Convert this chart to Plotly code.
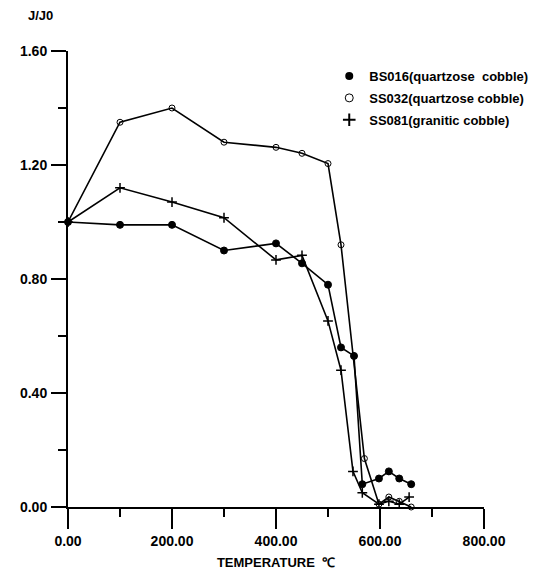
import plotly.graph_objects as go

# Data
bs016_x = [0, 100, 200, 300, 400, 450, 500, 525, 550, 566, 598, 617, 637, 660]
bs016_y = [1.00, 0.99, 0.99, 0.90, 0.925, 0.855, 0.78, 0.56, 0.53, 0.08, 0.10, 0.125, 0.10, 0.08]

ss032_x = [0, 100, 200, 300, 400, 450, 500, 525, 570, 598, 617, 637, 660]
ss032_y = [1.00, 1.35, 1.40, 1.28, 1.262, 1.241, 1.205, 0.92, 0.17, 0.01, 0.035, 0.02, 0.0]

ss081_x = [0, 100, 200, 300, 400, 450, 500, 525, 548, 566, 598, 617, 637, 656]
ss081_y = [1.00, 1.12, 1.07, 1.015, 0.867, 0.883, 0.653, 0.48, 0.125, 0.05, 0.01, 0.02, 0.01, 0.035]

legend_names = ["BS016(quartzose  cobble)", "SS032(quartzose cobble)", "SS081(granitic cobble)"]
x_ticks = [0, 200, 400, 600, 800]
x_tick_labels = ["0.00", "200.00", "400.00", "600.00", "800.00"]
y_ticks = [0, 0.4, 0.8, 1.2, 1.6]
y_tick_labels = ["0.00", "0.40", "0.80", "1.20", "1.60"]

FONT = "Liberation Sans Narrow, Arial Narrow, Liberation Sans, Arial"

fig = go.Figure()

styles = [
    dict(symbol="circle", size=7, color="black", line=dict(color="black", width=1)),
    dict(symbol="circle-open", size=6, color="black", line=dict(color="black", width=1)),
    dict(symbol="cross-thin", size=7, color="black", line=dict(color="black", width=1.5)),
]

for (xs, ys), st in zip([(bs016_x, bs016_y), (ss032_x, ss032_y), (ss081_x, ss081_y)], styles):
    fig.add_trace(go.Scatter(
        x=xs, y=ys, mode="lines+markers", showlegend=False,
        line=dict(color="black", width=1.6), marker=st, cliponaxis=False,
    ))

legend_styles = [
    dict(symbol="circle", size=8, color="black"),
    dict(symbol="circle-open", size=8, color="black", line=dict(color="black", width=1)),
    dict(symbol="cross-thin", size=9, color="black", line=dict(color="black", width=2)),
]
for i, (st, name) in enumerate(zip(legend_styles, legend_names)):
    fig.add_trace(go.Scatter(x=[None], y=[None], mode="markers", marker=st, name=name,
                             legendgroup="g%d" % i))

fig.update_layout(
    width=537, height=571,
    margin=dict(l=60, r=55, t=43, b=72),
    paper_bgcolor="white", plot_bgcolor="white",
    font=dict(family=FONT, size=14, color="black"),
    legend=dict(x=0.628, y=0.978, xanchor="left", yanchor="top",
                font=dict(family=FONT, size=13, color="black", weight="bold"),
                itemwidth=30, tracegroupgap=2, bgcolor="rgba(0,0,0,0)"),
    xaxis=dict(
        range=[0, 800], showgrid=False, zeroline=False, automargin=False,
        showline=True, linecolor="black", linewidth=2,
        ticks="outside", ticklen=20, tickwidth=2, tickcolor="black",
        tickvals=x_ticks, ticktext=x_tick_labels,
        tickfont=dict(family=FONT, size=14, weight="bold"),
        minor=dict(ticks="outside", ticklen=8, tickwidth=2, tickcolor="black", dtick=100, tick0=0, showgrid=False),
        title=dict(text="TEMPERATURE  ℃", font=dict(family=FONT, size=13, weight="bold"), standoff=10),
    ),
    yaxis=dict(
        range=[0, 1.6], showgrid=False, zeroline=False, automargin=False,
        showline=True, linecolor="black", linewidth=2,
        ticks="outside", ticklen=15, tickwidth=2, tickcolor="black",
        tickvals=y_ticks, ticktext=y_tick_labels,
        tickfont=dict(family=FONT, size=14, weight="bold"),
        ticklabelstandoff=1,
        minor=dict(ticks="outside", ticklen=8, tickwidth=2, tickcolor="black", dtick=0.2, tick0=0, showgrid=False),
    ),
    annotations=[dict(text="J/J0", xref="paper", yref="paper", x=-0.067, y=1.078,
                      xanchor="center", yanchor="middle", showarrow=False,
                      font=dict(family=FONT, size=13, weight="bold"))],
)

fig.write_html("out.html")
